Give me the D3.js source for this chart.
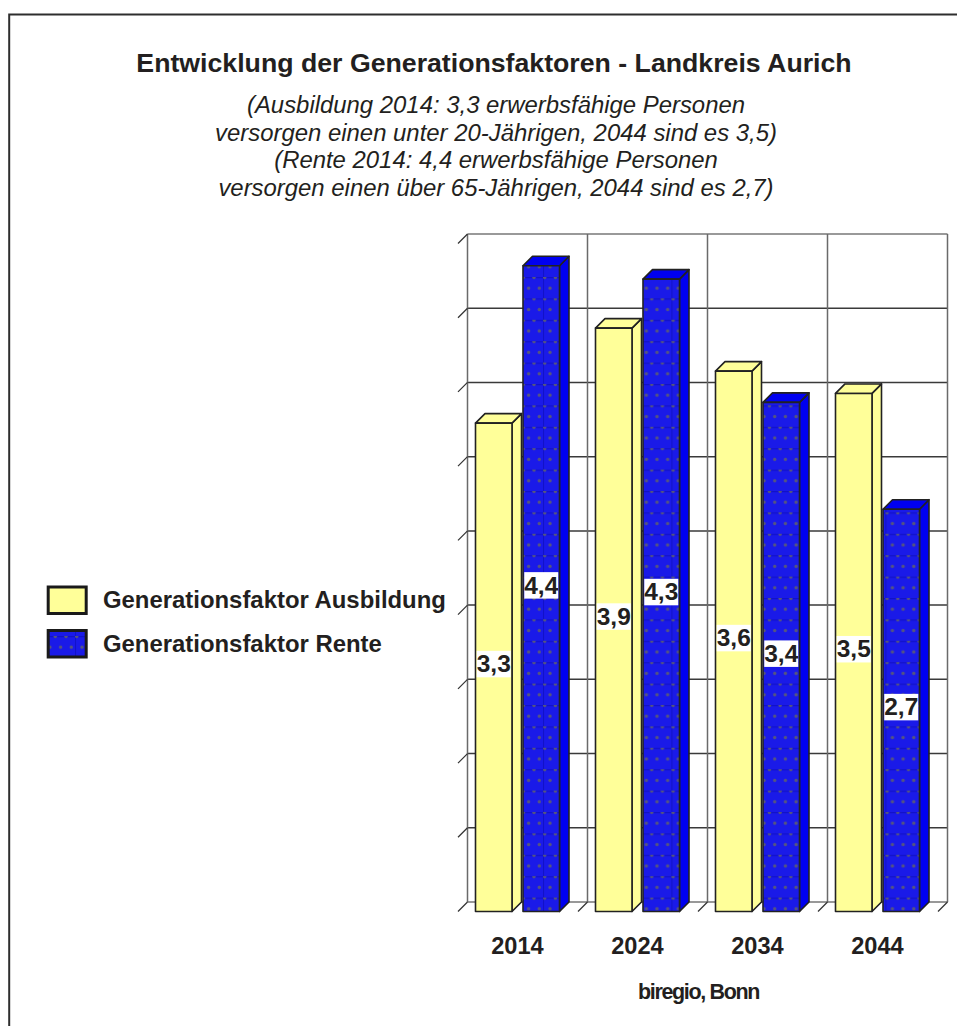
<!DOCTYPE html>
<html><head><meta charset="utf-8">
<style>html,body{margin:0;padding:0;background:#fff}svg{display:block}text{font-family:"Liberation Sans",Arial,sans-serif;fill:#231f20}</style>
<script src="https://cdn.jsdelivr.net/npm/d3@7"></script></head><body>
<script>
const years=["2014","2024","2034","2044"];
const seriesNames=["Generationsfaktor Ausbildung","Generationsfaktor Rente"];
const ausbildung=[3.29,3.93,3.64,3.49];
const rente=[4.35,4.26,3.43,2.71];
const ausbildungLabels=["3,3","3,9","3,6","3,5"];
const renteLabels=["4,4","4,3","3,4","2,7"];
const yTicks=[0,0.5,1,1.5,2,2.5,3,3.5,4,4.5];
const titleLine="Entwicklung der Generationsfaktoren - Landkreis Aurich";
const subtitleLines=["(Ausbildung 2014: 3,3 erwerbsfähige Personen","versorgen einen unter 20-Jährigen, 2044 sind es 3,5)","(Rente 2014: 4,4 erwerbsfähige Personen","versorgen einen über 65-Jährigen, 2044 sind es 2,7)"];
const credit="biregio, Bonn";

const W=957,H=1026,dx=9.5,dy=-9.5;
const svg=d3.select("body").append("svg").attr("width",W).attr("height",H);
const defs=svg.append("defs");
function texture(id,ox,oy){
 const p=defs.append("pattern").attr("id",id).attr("patternUnits","userSpaceOnUse").attr("width",42.8).attr("height",21.4).attr("x",ox).attr("y",oy);
 p.append("rect").attr("width",42.8).attr("height",21.4).attr("fill","#1a1ae8");
 p.append("path").attr("d","M0 0.5H42.8M0.5 0V21.4").attr("stroke","#1212c8").attr("stroke-width",1.2);
 d3.range(4).forEach(k=>{
  p.append("circle").attr("cx",1.7+k*10.7).attr("cy",0.6).attr("r",1.7).attr("fill","#55557f");
  p.append("circle").attr("cx",7+k*10.7).attr("cy",11.2).attr("r",1.7).attr("fill","#55557f");
 });
}
texture("dots",543,277);
texture("dotsL",75,636);

svg.append("path").attr("d",`M9.2 ${H}V14.5H${W}`).attr("fill","none").attr("stroke","#2e2e2e").attr("stroke-width",2);

const title=svg.append("g").attr("text-anchor","middle");
title.append("text").attr("x",494).attr("y",72).attr("font-size",26.7).attr("font-weight","bold").text(titleLine);
title.selectAll("text.s").data(subtitleLines).join("text").attr("class","s").attr("x",496)
 .attr("y",(d,i)=>113+i*27.5).attr("font-size",23.9).attr("font-style","italic").text(d=>d);

const x=d3.scaleBand().domain(years).range([458,938]);
const xs=d3.scaleBand().domain([0,1]).range([17.5,101.5]).paddingInner(0.2316);
const y=d3.scaleLinear().domain([0,4.5]).range([911.5,243.5]);

const grid=svg.append("g").attr("fill","none");
grid.selectAll("line.h").data(yTicks).join("line").attr("x1",458+dx).attr("x2",938+dx)
 .attr("y1",d=>y(d)+dy).attr("y2",d=>y(d)+dy).attr("stroke",(d,i)=>(i==0||i==9)?"#777":"#3a3a3a").attr("stroke-width",1.5);
grid.selectAll("line.v").data(years.concat("end")).join("line")
 .attr("x1",(d,i)=>458+dx+i*x.step()).attr("x2",(d,i)=>458+dx+i*x.step())
 .attr("y1",y(4.5)+dy).attr("y2",y(0)+dy).attr("stroke","#6a6a6a").attr("stroke-width",1.5);
grid.selectAll("line.t").data(yTicks).join("line").attr("x1",458).attr("x2",458+dx)
 .attr("y1",d=>y(d)).attr("y2",d=>y(d)+dy).attr("stroke","#333").attr("stroke-width",1.2);
grid.selectAll("line.f").data(years.concat("end").slice(1)).join("line")
 .attr("x1",(d,i)=>458+(i+1)*x.step()).attr("x2",(d,i)=>458+dx+(i+1)*x.step())
 .attr("y1",y(0)).attr("y2",y(0)+dy).attr("stroke","#333").attr("stroke-width",1.2);

function bars(vals,idx,front,side,top){
 const g=svg.append("g").attr("stroke","#222").attr("stroke-width",1.6).attr("stroke-linejoin","round");
 const bx=d=>x(d)+xs(idx),w=xs.bandwidth();
 g.selectAll("path.side").data(years).join("path").attr("fill",side)
  .attr("d",(d,i)=>`M${bx(d)+w} ${y(vals[i])}l${dx} ${dy}V${y(0)+dy}l${-dx} ${-dy}Z`);
 g.selectAll("path.top").data(years).join("path").attr("fill",top)
  .attr("d",(d,i)=>`M${bx(d)} ${y(vals[i])}l${dx} ${dy}h${w}l${-dx} ${-dy}Z`);
 g.selectAll("rect").data(years).join("rect").attr("fill",front)
  .attr("x",bx).attr("width",w).attr("y",(d,i)=>y(vals[i])).attr("height",(d,i)=>y(0)-y(vals[i]));
}
bars(ausbildung,0,"#ffff99","#ffff99","#ffff99");
bars(rente,1,"url(#dots)","#0000f0","#0000f0");

function labels(vals,idx,txt){
 const g=svg.append("g");
 years.forEach((d,i)=>{
  const cx=x(d)+xs(idx)+xs.bandwidth()/2, cy=y(vals[i]/2)-3.5;
  g.append("rect").attr("x",cx-17).attr("y",cy-13).attr("width",34).attr("height",26.5).attr("fill","#fff");
  g.append("text").attr("x",cx).attr("y",cy+8.5).attr("text-anchor","middle").attr("font-size",24.5).attr("font-weight","bold").text(txt[i]);
 });
}
labels(ausbildung,0,ausbildungLabels);
labels(rente,1,renteLabels);

svg.append("g").selectAll("text").data(years).join("text").attr("x",d=>x(d)+x.bandwidth()/2-0.5).attr("y",954)
 .attr("text-anchor","middle").attr("font-size",23.6).attr("font-weight","bold").text(d=>d);
svg.append("text").attr("x",698.5).attr("y",998.5).attr("text-anchor","middle").attr("font-size",21.5).attr("font-weight","bold").attr("letter-spacing",-1.35).text(credit);

const lg=svg.append("g");
const lfill=["#ffff99","url(#dotsL)"];
seriesNames.forEach((n,i)=>{
 const ly=587+i*43.5;
 lg.append("rect").attr("x",48.2).attr("y",ly).attr("width",38).attr("height",26.5).attr("fill",lfill[i]).attr("stroke","#1a1a1a").attr("stroke-width",3);
 lg.append("text").attr("x",103).attr("y",607.5+i*44).attr("font-size",23.9).attr("font-weight","bold").text(n);
});
</script></body></html>
